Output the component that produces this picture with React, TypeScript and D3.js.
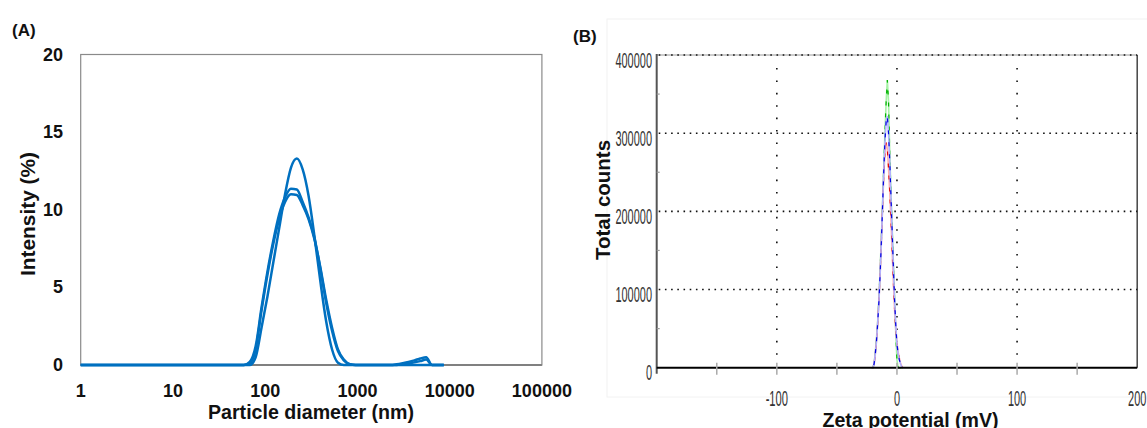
import { useEffect, useRef } from 'react';
import * as d3 from 'd3';

const W = 1147;
const H = 428;
const FONT = "'Liberation Sans', Arial, Helvetica, sans-serif";
const NARROW = "'Liberation Sans Narrow', 'Arial Narrow', 'Liberation Sans', Arial, sans-serif";

// (A) size distribution by intensity, three runs
const sizeNm = [1, 50.75, 58.77, 68.06, 78.82, 91.28, 105.7, 122.4, 141.8, 164.2, 190.1, 220.2, 255.0, 295.3,
  342.0, 396.1, 458.7, 531.2, 615.1, 712.4, 825.0, 955.4, 1106, 1281, 1484, 1718, 1990, 2305, 2669, 3091,
  3580, 4145, 4801, 5560, 6439, 7456, 8635];
const run1 = [0, 0, 0, 0, 0.5, 2.4, 4.4, 6.6, 8.8, 11.0, 12.7, 13.3, 12.6, 10.9,
  8.3, 5.4, 2.8, 1.0, 0.15, 0, 0, 0, 0, 0, 0, 0, 0, 0, 0, 0,
  0, 0, 0, 0, 0, 0, 0];
const run2 = [0, 0, 0, 0.2, 1.2, 3.7, 6.0, 8.0, 9.7, 10.8, 11.35, 11.3, 10.5, 9.5,
  8.2, 6.2, 4.0, 2.2, 0.9, 0.3, 0.05, 0, 0, 0, 0, 0, 0, 0, 0.05, 0.12,
  0.2, 0.3, 0.42, 0.5, 0, 0, 0];
const run3 = [0, 0, 0, 0.1, 1.0, 3.5, 5.8, 7.8, 9.4, 10.5, 11.0, 10.95, 10.3, 9.4,
  8.1, 6.3, 4.2, 2.4, 1.0, 0.35, 0.05, 0, 0, 0, 0, 0, 0, 0, 0, 0.05,
  0.1, 0.17, 0.25, 0.35, 0, 0, 0];
const sizeTicks = [1, 10, 100, 1000, 10000, 100000];
const sizeTickLabels = ['1', '10', '100', '1000', '10000', '100000'];
const intensityTicks = [0, 5, 10, 15, 20];

// (B) zeta potential distribution, three runs
const zetaMv = [-21, -20, -19, -18, -17, -16, -15, -14, -13, -12, -11, -10, -9, -8, -7, -6, -5, -4, -3, -2, -1,
  0, 1, 2, 3, 4, 5];
const zetaRed = [0, 0, 5000, 18000, 35000, 58000, 85000, 120000, 160000, 205000, 245000, 275000, 288000, 280000,
  255000, 225000, 190000, 150000, 110000, 75000, 50000, 32000, 20000, 12000, 6000, 2000, 0];
const zetaBlue = [0, 0, 5000, 18000, 35000, 58000, 85000, 120000, 160000, 205000, 250000, 290000, 315000, 322000,
  300000, 265000, 220000, 175000, 130000, 88000, 55000, 30000, 18000, 10000, 5000, 1000, 0];
const zetaGreen = [0, 0, 5000, 20000, 38000, 60000, 88000, 125000, 165000, 210000, 255000, 300000, 340000, 368000,
  340000, 275000, 225000, 180000, 135000, 90000, 45000, 10000, 0, 0, 0, 0, 0];
const countTicks = [0, 100000, 200000, 300000, 400000];
const countMinor = [50000, 150000, 250000, 350000];
const zetaTicks = [-100, 0, 100, 200];
const zetaTickLabels = ['-100', '0', '100', '200'];
const zetaMarks = [-150, -100, -50, 0, 50, 100, 150];
const zetaGrid = [-100, 0, 100];

const App = () => {
  const svgRef = useRef<SVGSVGElement>(null);

  useEffect(() => {
    const svg = d3.select(svgRef.current);
    svg.selectAll('*').remove();

    // ---------- panel A ----------
    const xA = d3.scaleLog().domain([1, 100000]).range([80.7, 541.9]);
    const yA = d3.scaleLinear().domain([0, 20]).range([365, 54.5]);
    const gA = svg.append('g');

    gA.append('rect')
      .attr('x', xA(1)).attr('y', yA(20))
      .attr('width', xA(100000) - xA(1)).attr('height', yA(0) - yA(20))
      .attr('fill', 'none').attr('stroke', '#8a8a8a').attr('stroke-width', 1.2);
    gA.append('line')
      .attr('x1', xA(1)).attr('x2', xA(100000)).attr('y1', yA(0)).attr('y2', yA(0))
      .attr('stroke', '#808080').attr('stroke-width', 2);

    const lineA = d3.line<number>()
      .x((_, i) => xA(sizeNm[i]))
      .y(d => yA(d))
      .curve(d3.curveMonotoneX);
    [run3, run2, run1].forEach(run => {
      gA.append('path').attr('d', lineA(run))
        .attr('fill', 'none').attr('stroke', '#0070C0').attr('stroke-width', 2.5)
        .attr('stroke-linejoin', 'round');
    });

    gA.selectAll('.ytA').data(intensityTicks).enter().append('text')
      .attr('x', 63).attr('y', d => yA(d))
      .attr('text-anchor', 'end').attr('dominant-baseline', 'central')
      .style('font', `bold 18px ${FONT}`).attr('fill', '#111')
      .text(d => String(d));
    gA.selectAll('.xtA').data(sizeTicks).enter().append('text')
      .attr('x', d => xA(d)).attr('y', 397)
      .attr('text-anchor', 'middle')
      .style('font', `bold 18px ${FONT}`).attr('fill', '#111')
      .text((_, i) => sizeTickLabels[i]);

    gA.append('text').attr('x', 311).attr('y', 419).attr('text-anchor', 'middle')
      .attr('textLength', 206).attr('lengthAdjust', 'spacingAndGlyphs')
      .style('font', `bold 20px ${FONT}`).attr('fill', '#111')
      .text('Particle diameter (nm)');
    gA.append('text').attr('transform', 'translate(35,214) rotate(-90)').attr('text-anchor', 'middle')
      .attr('textLength', 124).attr('lengthAdjust', 'spacingAndGlyphs')
      .style('font', `bold 21px ${FONT}`).attr('fill', '#111')
      .text('Intensity (%)');
    gA.append('text').attr('x', 12).attr('y', 36)
      .style('font', `bold 17px ${FONT}`).attr('fill', '#111').text('(A)');

    // ---------- panel B ----------
    const xB = d3.scaleLinear().domain([-200, 200]).range([656.7, 1137.2]);
    const yB = d3.scaleLinear().domain([0, 400000]).range([367.7, 55]);
    const gB = svg.append('g');

    gB.append('rect').attr('x', 607).attr('y', 19).attr('width', 545).attr('height', 378)
      .attr('fill', 'none').attr('stroke', '#f2f2f2').attr('stroke-width', 1);

    // frame: top / right
    gB.append('line').attr('x1', xB(-200)).attr('x2', xB(200)).attr('y1', yB(400000)).attr('y2', yB(400000))
      .attr('stroke', '#9a9a9a').attr('stroke-width', 1);
    gB.append('line').attr('x1', xB(200)).attr('x2', xB(200)).attr('y1', yB(400000)).attr('y2', yB(0))
      .attr('stroke', '#444').attr('stroke-width', 1.5);

    // dotted grid
    gB.selectAll('.hg').data(countTicks.slice(1)).enter().append('line')
      .attr('x1', xB(-200) + 2).attr('x2', xB(200)).attr('y1', d => yB(d)).attr('y2', d => yB(d))
      .attr('stroke', '#111').attr('stroke-width', 1.6).attr('stroke-dasharray', '1.6 4.6');
    gB.selectAll('.vg').data(zetaGrid).enter().append('line')
      .attr('x1', d => xB(d)).attr('x2', d => xB(d)).attr('y1', yB(400000) + 13).attr('y2', yB(0) - 6)
      .attr('stroke', '#111').attr('stroke-width', 1.6).attr('stroke-dasharray', '1.6 10.8');

    // curves: pale solid under a dashed saturated line, dashes offset so colours interleave
    const lineB = d3.line<number>()
      .x((_, i) => xB(zetaMv[i]))
      .y(d => yB(d));
    const series: [number[], string, string, number][] = [
      [zetaGreen, '#a6f2a6', '#00b000', 0],
      [zetaRed, '#ffb0b0', '#e00000', 4],
      [zetaBlue, '#b0b0ff', '#0000e0', 8],
    ];
    series.forEach(([vals, pale, strong, offset]) => {
      gB.append('path').attr('d', lineB(vals)).attr('fill', 'none')
        .attr('stroke', pale).attr('stroke-width', 1.6);
      gB.append('path').attr('d', lineB(vals)).attr('fill', 'none')
        .attr('stroke', strong).attr('stroke-width', 1.2)
        .attr('stroke-dasharray', '4 8').attr('stroke-dashoffset', offset);
    });

    // axes
    gB.append('line').attr('x1', xB(-200)).attr('x2', xB(-200)).attr('y1', yB(400000) - 1).attr('y2', yB(0) + 6)
      .attr('stroke', '#555').attr('stroke-width', 2);
    gB.append('line').attr('x1', xB(-200)).attr('x2', xB(200)).attr('y1', yB(0)).attr('y2', yB(0))
      .attr('stroke', '#000').attr('stroke-width', 2);
    gB.selectAll('.xm').data(zetaMarks).enter().append('line')
      .attr('x1', d => xB(d)).attr('x2', d => xB(d)).attr('y1', yB(0) - 5).attr('y2', yB(0) + 7)
      .attr('stroke', '#aaa').attr('stroke-width', 1.5);
    gB.selectAll('.ym').data(countMinor).enter().append('line')
      .attr('x1', xB(-200)).attr('x2', xB(-200) + 3).attr('y1', d => yB(d)).attr('y2', d => yB(d))
      .attr('stroke', '#999').attr('stroke-width', 1.2);

    gB.selectAll('.ytB').data(countTicks).enter().append('text')
      .attr('x', 652).attr('y', d => yB(d) + 5)
      .attr('text-anchor', 'end').attr('dominant-baseline', 'central')
      .attr('textLength', d => String(d).length * 6.1).attr('lengthAdjust', 'spacingAndGlyphs')
      .style('font', `22px ${NARROW}`).attr('fill', '#333')
      .text(d => String(d));
    gB.selectAll('.xtB').data(zetaTicks).enter().append('text')
      .attr('x', d => xB(d)).attr('y', 406)
      .attr('text-anchor', 'middle')
      .attr('textLength', (_, i) => zetaTickLabels[i].length * 6.1 - (zetaTickLabels[i][0] === '-' ? 2 : 0))
      .attr('lengthAdjust', 'spacingAndGlyphs')
      .style('font', `22px ${NARROW}`).attr('fill', '#333')
      .text((_, i) => zetaTickLabels[i]);

    gB.append('text').attr('x', 910.5).attr('y', 427).attr('text-anchor', 'middle')
      .attr('textLength', 176).attr('lengthAdjust', 'spacingAndGlyphs')
      .style('font', `bold 20px ${FONT}`).attr('fill', '#111')
      .text('Zeta potential (mV)');
    gB.append('text').attr('transform', 'translate(610,200) rotate(-90)').attr('text-anchor', 'middle')
      .attr('textLength', 120).attr('lengthAdjust', 'spacingAndGlyphs')
      .style('font', `bold 20px ${FONT}`).attr('fill', '#111')
      .text('Total counts');
    gB.append('text').attr('x', 573).attr('y', 42)
      .style('font', `bold 17px ${FONT}`).attr('fill', '#111').text('(B)');
  }, []);

  return (
    <svg ref={svgRef} width={W} height={H}
      style={{ position: 'absolute', left: 0, top: 0, background: '#fff' }} />
  );
};

export default App;
